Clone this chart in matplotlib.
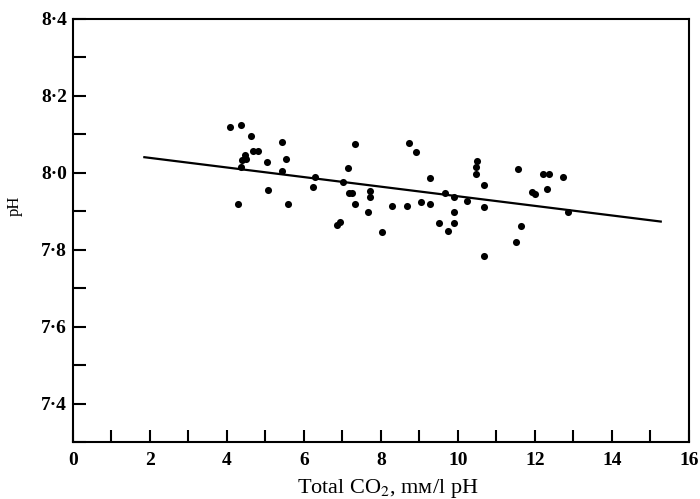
import numpy as np
import matplotlib
matplotlib.use("Agg")
import matplotlib.pyplot as plt
from matplotlib.ticker import FixedLocator, FixedFormatter, MultipleLocator

plt.rcParams['font.family'] = ['Liberation Serif', 'DejaVu Serif']
plt.rcParams['mathtext.fontset'] = 'stix'

# Data
co2 = np.array([4.09, 4.37, 4.63, 4.69, 4.80, 4.46, 4.39, 4.50, 4.37, 4.29,
                5.04, 5.06, 5.43, 5.54, 5.43, 5.60, 6.29, 6.25, 7.01, 6.87,
                6.94, 7.16, 7.18, 7.33, 7.25, 7.33, 7.68, 7.72, 7.72, 8.03,
                8.29, 8.69, 8.72, 8.91, 9.05, 9.28, 9.28, 9.50, 9.67, 9.74,
                9.91, 9.89, 9.91, 10.23, 10.49, 10.47, 10.46, 10.69, 10.67, 10.69,
                11.56, 11.64, 11.51, 12.22, 12.37, 12.31, 11.92, 12.01, 12.74, 12.85])
ph = np.array([8.118, 8.125, 8.096, 8.057, 8.057, 8.047, 8.034, 8.036, 8.015, 7.919,
               8.029, 7.956, 8.079, 8.036, 8.005, 7.919, 7.989, 7.964, 7.977, 7.865,
               7.871, 8.012, 7.947, 8.075, 7.947, 7.919, 7.898, 7.954, 7.938, 7.846,
               7.915, 7.915, 8.077, 8.055, 7.925, 7.919, 7.986, 7.869, 7.947, 7.848,
               7.938, 7.898, 7.869, 7.928, 8.031, 8.016, 7.997, 7.969, 7.910, 7.783,
               8.010, 7.861, 7.819, 7.997, 7.997, 7.958, 7.949, 7.945, 7.988, 7.898])

fit_x = [1.83, 15.3]
fit_y = [8.041, 7.873]

x_ticks = [0, 2, 4, 6, 8, 10, 12, 14, 16]
x_labels = ['0', '2', '4', '6', '8', '10', '12', '14', '16']
y_ticks = [7.4, 7.6, 7.8, 8.0, 8.2, 8.4]
y_labels = ['7·4', '7·6', '7·8', '8·0', '8·2', '8·4']

fig = plt.figure(figsize=(7.0, 4.99), dpi=100)
ax = fig.add_axes([0.104, 0.114, 0.880, 0.848])

ax.plot(fit_x, fit_y, color='black', lw=1.6, solid_capstyle='butt')
ax.scatter(co2, ph, s=26, color='black', zorder=3, linewidths=0)

ax.set_xlim(0, 16)
ax.set_ylim(7.3, 8.4)

ax.xaxis.set_major_locator(FixedLocator(x_ticks))
ax.xaxis.set_major_formatter(FixedFormatter(x_labels))
ax.xaxis.set_minor_locator(MultipleLocator(1))
ax.yaxis.set_major_locator(FixedLocator(y_ticks))
ax.yaxis.set_major_formatter(FixedFormatter(y_labels))
ax.yaxis.set_minor_locator(MultipleLocator(0.1))

ax.tick_params(which='both', direction='in', length=9, width=1.5, colors='black')
ax.tick_params(axis='x', which='both', top=False, pad=7)
ax.tick_params(axis='y', which='both', right=False, pad=4)
for lab in ax.get_xticklabels() + ax.get_yticklabels():
    lab.set_fontsize(14)
    lab.set_fontweight('bold')

for sp in ax.spines.values():
    sp.set_linewidth(1.5)

ax.set_xlabel(r'Total CO$_2$, mм/l pH', fontsize=16)
ax.xaxis.set_label_coords(0.511, -0.083)
ax.set_ylabel('pH', fontsize=12)
ax.yaxis.set_label_coords(-0.082, 0.558)

fig.savefig('out.png', dpi=100)
